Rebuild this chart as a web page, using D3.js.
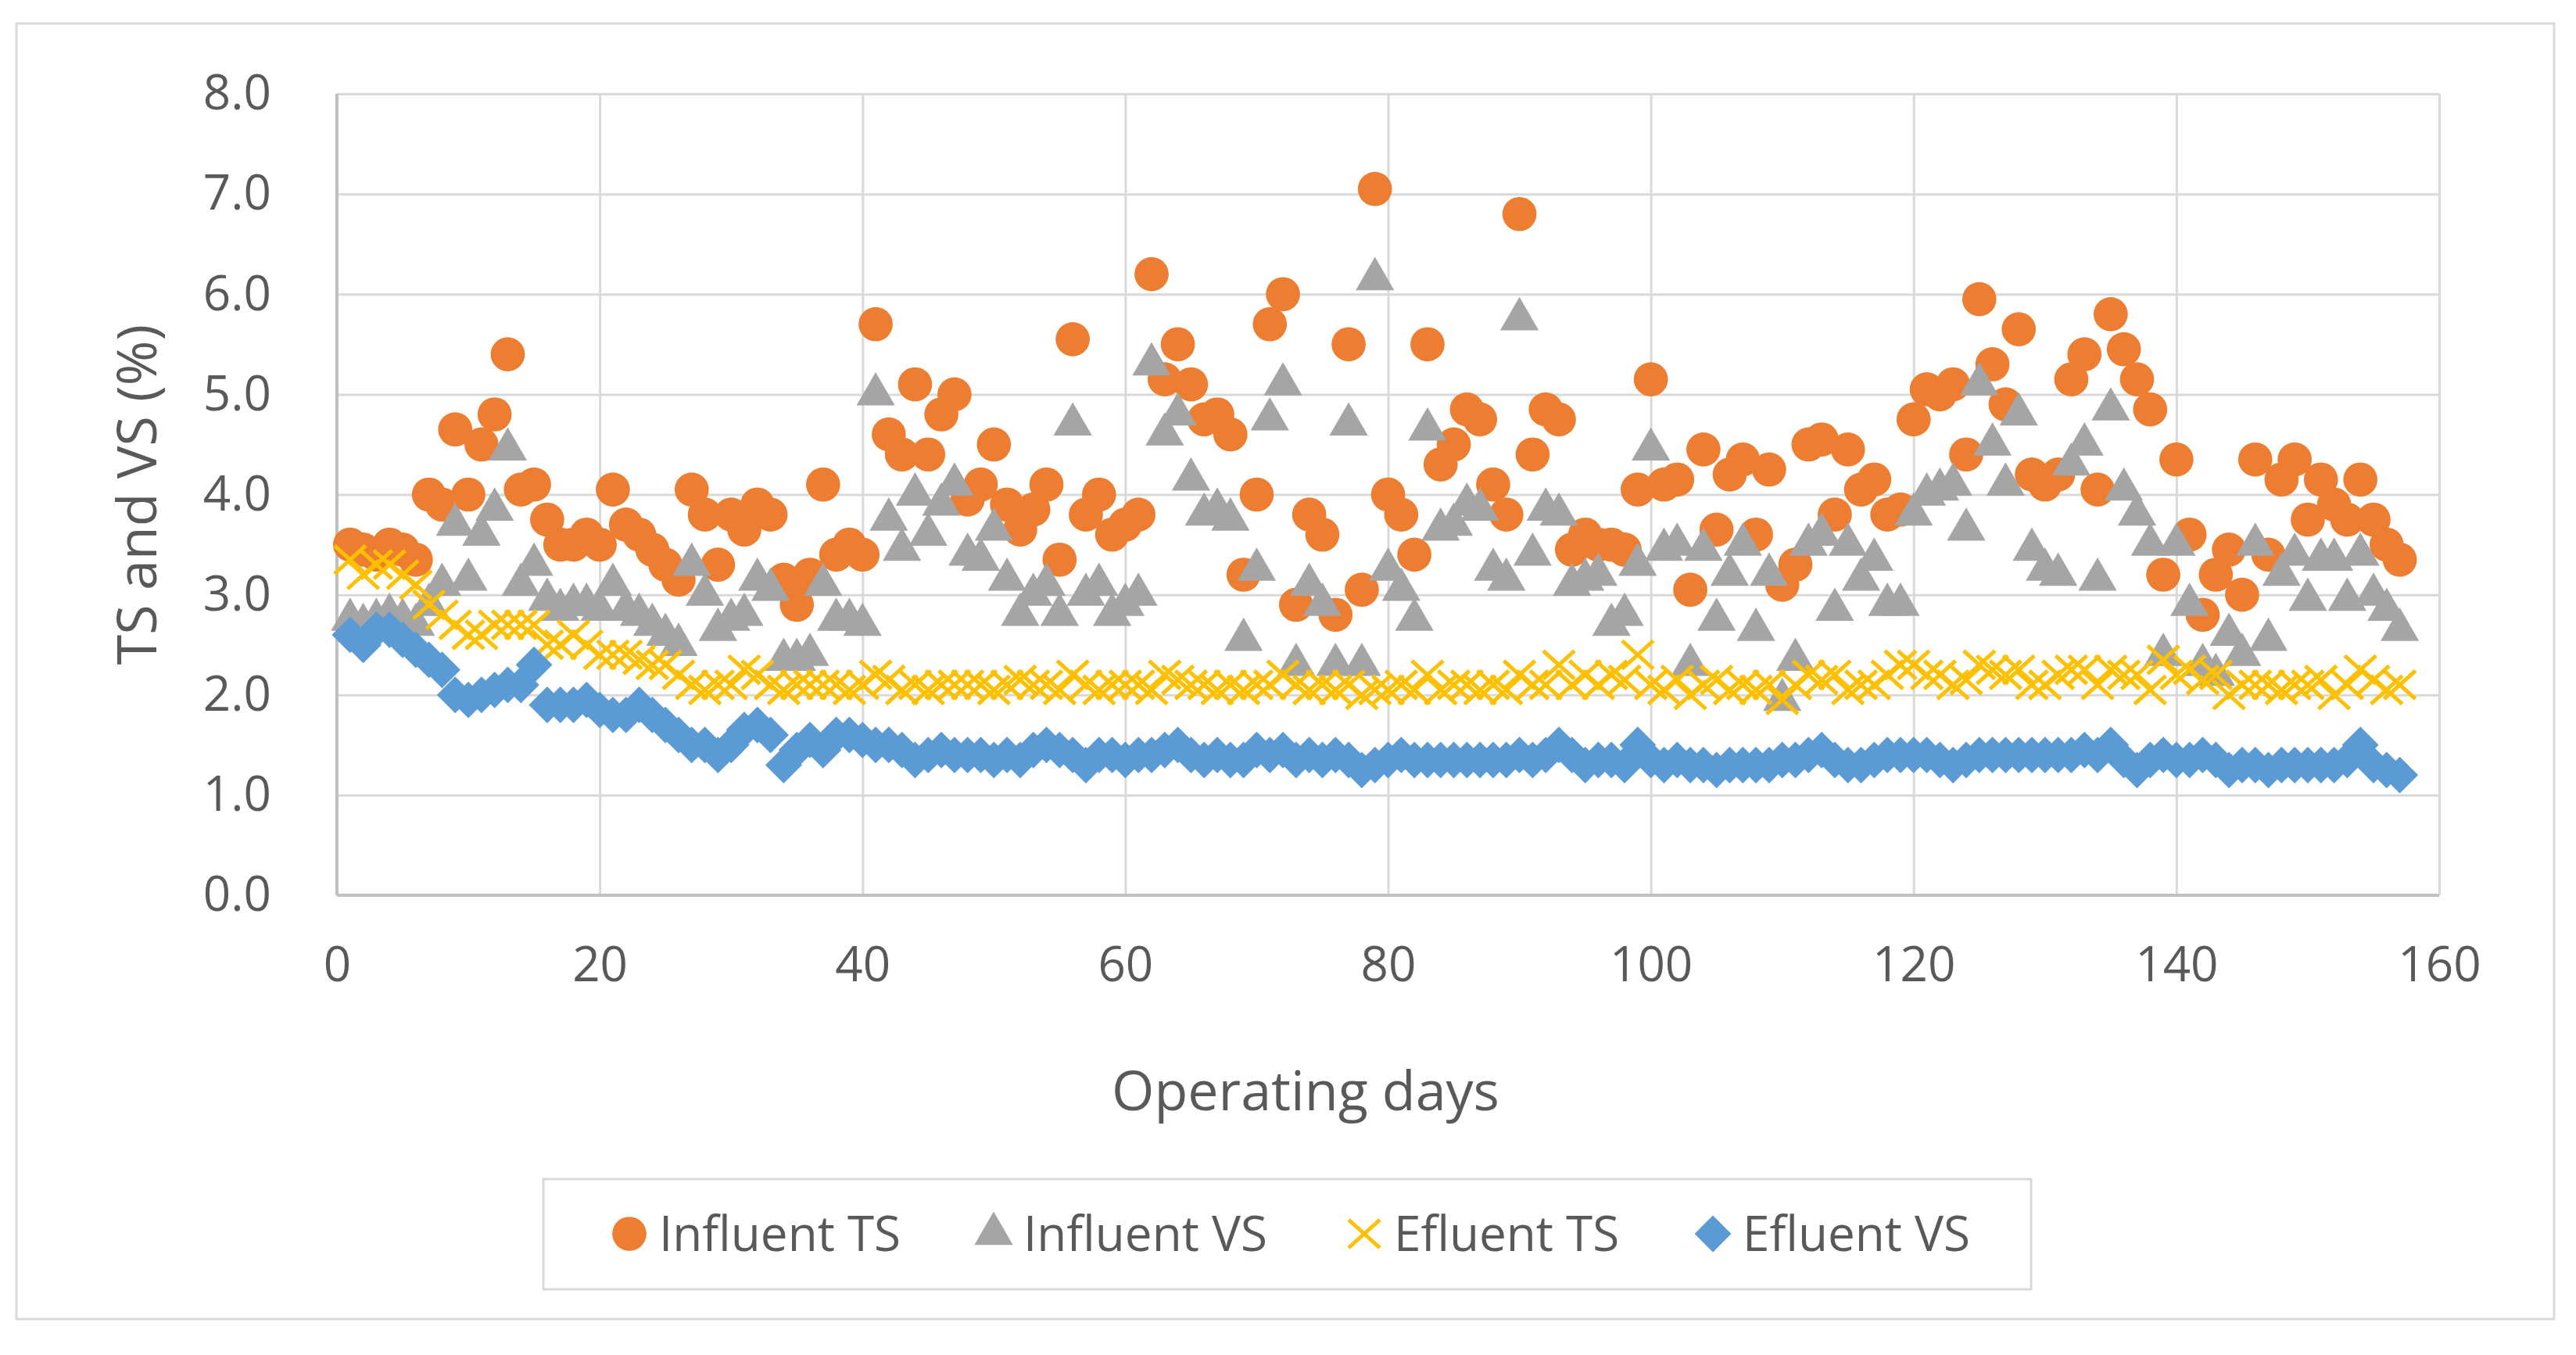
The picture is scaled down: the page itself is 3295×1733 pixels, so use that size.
<!DOCTYPE html>
<html lang="en">
<head>
    <meta charset="UTF-8">
    <title>TS and VS</title>
    <script src="https://d3js.org/d3.v7.min.js"></script>
    <style>
        body { margin: 0; background: #fff; }
        text { font-family: "Open Sans", sans-serif; fill: #595959; }
        .gridlines .domain { display: none; }
        .gridlines line { stroke: #d9d9d9; stroke-width: 3px; }
        .axis .domain { display: none; }
        .axis line { display: none; }
        .axis text { font-size: 62px; }
    </style>
</head>
<body>
    <svg id="chart" width="3295" height="1733"></svg>
    <script>
        // chart values (operating day = index + 1)
        const days = d3.range(1, 158);
        const xTicks = [0, 20, 40, 60, 80, 100, 120, 140, 160];
        const yTicks = [0, 1, 2, 3, 4, 5, 6, 7, 8];
        const seriesNames = ['Influent TS', 'Influent VS', 'Efluent TS', 'Efluent VS'];

        const influentTS = [3.5, 3.45, 3.4, 3.5, 3.45, 3.35, 4.0, 3.9, 4.65, 4.0,
            4.5, 4.8, 5.4, 4.05, 4.1, 3.75, 3.5, 3.5, 3.6, 3.5,
            4.05, 3.7, 3.6, 3.45, 3.3, 3.15, 4.05, 3.8, 3.3, 3.8,
            3.65, 3.9, 3.8, 3.15, 2.9, 3.2, 4.1, 3.4, 3.5, 3.4,
            5.7, 4.6, 4.4, 5.1, 4.4, 4.8, 5.0, 3.95, 4.1, 4.5,
            3.9, 3.65, 3.85, 4.1, 3.35, 5.55, 3.8, 4.0, 3.6, 3.7,
            3.8, 6.2, 5.15, 5.5, 5.1, 4.75, 4.8, 4.6, 3.2, 4.0,
            5.7, 6.0, 2.9, 3.8, 3.6, 2.8, 5.5, 3.05, 7.05, 4.0,
            3.8, 3.4, 5.5, 4.3, 4.5, 4.85, 4.75, 4.1, 3.8, 6.8,
            4.4, 4.85, 4.75, 3.45, 3.6, 3.5, 3.5, 3.45, 4.05, 5.15,
            4.1, 4.15, 3.05, 4.45, 3.65, 4.2, 4.35, 3.6, 4.25, 3.1,
            3.3, 4.5, 4.55, 3.8, 4.45, 4.05, 4.15, 3.8, 3.85, 4.75,
            5.05, 5.0, 5.1, 4.4, 5.95, 5.3, 4.9, 5.65, 4.2, 4.1,
            4.2, 5.15, 5.4, 4.05, 5.8, 5.45, 5.15, 4.85, 3.2, 4.35,
            3.6, 2.8, 3.2, 3.45, 3.0, 4.35, 3.4, 4.15, 4.35, 3.75,
            4.15, 3.9, 3.75, 4.15, 3.75, 3.5, 3.35];

        const influentVS = [2.75, 2.7, 2.75, 2.8, 2.75, 2.7, 2.9, 3.1, 3.7, 3.15,
            3.6, 3.85, 4.45, 3.1, 3.3, 2.95, 2.85, 2.9, 2.9, 2.85,
            3.1, 2.85, 2.8, 2.7, 2.6, 2.5, 3.3, 3.0, 2.65, 2.75,
            2.8, 3.15, 3.05, 2.35, 2.35, 2.4, 3.1, 2.75, 2.75, 2.7,
            5.0, 3.75, 3.45, 4.0, 3.6, 3.9, 4.1, 3.4, 3.35, 3.65,
            3.15, 2.8, 3.0, 3.1, 2.8, 4.7, 3.0, 3.1, 2.8, 2.9,
            3.0, 5.3, 4.6, 4.8, 4.15, 3.8, 3.85, 3.75, 2.55, 3.25,
            4.75, 5.1, 2.3, 3.1, 2.9, 2.3, 4.7, 2.3, 6.15, 3.25,
            3.05, 2.75, 4.65, 3.65, 3.7, 3.9, 3.85, 3.25, 3.15, 5.75,
            3.4, 3.85, 3.8, 3.1, 3.15, 3.2, 2.7, 2.8, 3.3, 4.45,
            3.45, 3.5, 2.3, 3.45, 2.75, 3.2, 3.5, 2.65, 3.2, 1.95,
            2.35, 3.5, 3.6, 2.85, 3.5, 3.15, 3.35, 2.9, 2.9, 3.8,
            4.0, 4.05, 4.1, 3.65, 5.1, 4.5, 4.1, 4.8, 3.45, 3.25,
            3.2, 4.3, 4.5, 3.15, 4.85, 4.05, 3.8, 3.5, 2.4, 3.5,
            2.9, 2.3, 2.2, 2.6, 2.4, 3.5, 2.55, 3.2, 3.4, 2.95,
            3.35, 3.35, 2.95, 3.4, 3.0, 2.85, 2.65];

        const effluentTS = [3.35, 3.2, 3.3, 3.3, 3.2, 3.1, 2.9, 2.8, 2.7, 2.6,
            2.6, 2.7, 2.7, 2.7, 2.7, 2.5, 2.5, 2.6, 2.5, 2.4,
            2.4, 2.4, 2.35, 2.3, 2.3, 2.2, 2.1, 2.05, 2.1, 2.1,
            2.25, 2.2, 2.1, 2.05, 2.1, 2.1, 2.1, 2.1, 2.05, 2.1,
            2.2, 2.15, 2.05, 2.1, 2.05, 2.1, 2.1, 2.1, 2.1, 2.05,
            2.1, 2.15, 2.1, 2.1, 2.05, 2.2, 2.1, 2.05, 2.1, 2.1,
            2.1, 2.05, 2.2, 2.15, 2.1, 2.1, 2.05, 2.1, 2.05, 2.1,
            2.1, 2.2, 2.1, 2.05, 2.1, 2.05, 2.1, 2.0, 2.05, 2.05,
            2.1, 2.05, 2.2, 2.05, 2.1, 2.1, 2.05, 2.1, 2.05, 2.2,
            2.1, 2.1, 2.3, 2.1, 2.2, 2.1, 2.2, 2.15, 2.4, 2.1,
            2.05, 2.15, 2.0, 2.1, 2.15, 2.05, 2.1, 2.05, 2.1, 1.95,
            2.1, 2.2, 2.15, 2.2, 2.05, 2.1, 2.1, 2.2, 2.3, 2.3,
            2.2, 2.2, 2.1, 2.15, 2.3, 2.25, 2.2, 2.25, 2.1, 2.1,
            2.2, 2.25, 2.25, 2.1, 2.25, 2.2, 2.2, 2.05, 2.35, 2.2,
            2.25, 2.15, 2.2, 2.0, 2.1, 2.1, 2.1, 2.05, 2.1, 2.1,
            2.15, 2.0, 2.1, 2.25, 2.15, 2.05, 2.1];

        const effluentVS = [2.6, 2.5, 2.65, 2.65, 2.55, 2.45, 2.35, 2.25, 2.0, 1.95,
            2.0, 2.05, 2.1, 2.1, 2.3, 1.9, 1.9, 1.9, 1.95, 1.85,
            1.8, 1.8, 1.9, 1.8, 1.7, 1.6, 1.5, 1.5, 1.4, 1.5,
            1.65, 1.7, 1.6, 1.3, 1.45, 1.55, 1.45, 1.6, 1.6, 1.55,
            1.5, 1.5, 1.45, 1.35, 1.4, 1.45, 1.4, 1.4, 1.4, 1.35,
            1.4, 1.35, 1.45, 1.5, 1.45, 1.4, 1.3, 1.4, 1.4, 1.35,
            1.4, 1.4, 1.45, 1.5, 1.4, 1.35, 1.4, 1.35, 1.35, 1.45,
            1.4, 1.45, 1.35, 1.4, 1.35, 1.4, 1.35, 1.25, 1.3, 1.35,
            1.4, 1.35, 1.35, 1.35, 1.35, 1.35, 1.35, 1.35, 1.35, 1.4,
            1.35, 1.4, 1.5, 1.4, 1.3, 1.35, 1.35, 1.3, 1.5, 1.35,
            1.3, 1.35, 1.3, 1.3, 1.25, 1.3, 1.3, 1.3, 1.3, 1.35,
            1.35, 1.4, 1.45, 1.35, 1.3, 1.3, 1.35, 1.4, 1.4, 1.4,
            1.4, 1.35, 1.3, 1.35, 1.4, 1.4, 1.4, 1.4, 1.4, 1.4,
            1.4, 1.4, 1.45, 1.4, 1.5, 1.35, 1.25, 1.35, 1.4, 1.35,
            1.35, 1.4, 1.35, 1.25, 1.3, 1.3, 1.25, 1.3, 1.3, 1.3,
            1.3, 1.3, 1.35, 1.5, 1.3, 1.25, 1.2];

        const svg = d3.select('#chart');
        const plot = { left: 431, right: 3120, top: 120, bottom: 1145 };

        // outer chart frame
        svg.append('rect')
            .attr('x', 21).attr('y', 30)
            .attr('width', 3246).attr('height', 1657)
            .attr('fill', '#fff')
            .attr('stroke', '#d9d9d9').attr('stroke-width', 3);

        const x = d3.scaleLinear().domain([0, 160]).range([plot.left, plot.right]);
        const y = d3.scaleLinear().domain([0, 8]).range([plot.bottom, plot.top]);

        // gridlines
        svg.append('g')
            .attr('class', 'gridlines')
            .attr('transform', `translate(0,${plot.bottom})`)
            .call(d3.axisBottom(x).tickValues(xTicks).tickSize(-(plot.bottom - plot.top)).tickFormat(''));
        svg.append('g')
            .attr('class', 'gridlines')
            .attr('transform', `translate(${plot.left},0)`)
            .call(d3.axisLeft(y).tickValues(yTicks).tickSize(-(plot.right - plot.left)).tickFormat(''));

        // axis lines (slightly darker than the grid)
        svg.append('line')
            .attr('x1', plot.left).attr('x2', plot.right)
            .attr('y1', plot.bottom).attr('y2', plot.bottom)
            .attr('stroke', '#bfbfbf').attr('stroke-width', 4);
        svg.append('line')
            .attr('x1', plot.left).attr('x2', plot.left)
            .attr('y1', plot.top).attr('y2', plot.bottom)
            .attr('stroke', '#bfbfbf').attr('stroke-width', 4);

        // tick labels
        svg.append('g')
            .attr('class', 'axis')
            .attr('transform', `translate(${plot.left},0)`)
            .call(d3.axisLeft(y).tickValues(yTicks).tickSize(0).tickPadding(84).tickFormat(d3.format('.1f')));
        svg.append('g')
            .attr('class', 'axis')
            .attr('transform', `translate(0,${plot.bottom})`)
            .call(d3.axisBottom(x).tickValues(xTicks).tickSize(0).tickPadding(66));

        // axis titles
        svg.append('text')
            .attr('transform', `translate(200,${(plot.top + plot.bottom) / 2}) rotate(-90)`)
            .attr('text-anchor', 'middle')
            .attr('font-size', 70)
            .text('TS and VS (%)');
        svg.append('text')
            .attr('x', 1670)
            .attr('y', 1420)
            .attr('text-anchor', 'middle')
            .attr('font-size', 70)
            .text('Operating days');

        // marker shapes
        const circlePath = d3.symbol().type(d3.symbolCircle).size(1500)();
        const trianglePath = d3.symbol().type(d3.symbolTriangle).size(1050)();
        const diamondPath = d3.symbol().type(d3.symbolSquare).size(1100)();

        function drawCircle(g) {
            g.append('path').attr('d', circlePath).attr('fill', '#ED7D31');
        }
        function drawTriangle(g) {
            g.append('path').attr('d', trianglePath).attr('fill', '#A5A5A5');
        }
        function drawCross(g) {
            g.append('path').attr('d', 'M-20,-18L20,18M-20,18L20,-18')
                .attr('stroke', '#FFC000').attr('stroke-width', 5).attr('fill', 'none');
        }
        function drawDiamond(g) {
            g.append('path').attr('d', diamondPath).attr('transform', 'rotate(45)').attr('fill', '#5B9BD5');
        }

        const series = [
            { values: influentTS, draw: drawCircle },
            { values: influentVS, draw: drawTriangle },
            { values: effluentTS, draw: drawCross },
            { values: effluentVS, draw: drawDiamond }
        ];

        series.forEach(s => {
            svg.append('g')
                .selectAll('g')
                .data(s.values)
                .join('g')
                .attr('transform', (d, i) => `translate(${x(days[i])},${y(d)})`)
                .each(function () { s.draw(d3.select(this)); });
        });

        // legend
        svg.append('rect')
            .attr('x', 695).attr('y', 1508)
            .attr('width', 1903).attr('height', 141)
            .attr('fill', '#fff')
            .attr('stroke', '#d9d9d9').attr('stroke-width', 3);

        const legendX = [805, 1271, 1745, 2191];
        const legend = svg.append('g').attr('transform', 'translate(0,1578)');
        seriesNames.forEach((name, i) => {
            let item = legend.append('g').attr('transform', `translate(${legendX[i]},0)`);
            series[i].draw(item);
            legend.append('text')
                .attr('x', legendX[i] + 38)
                .attr('y', 22)
                .attr('font-size', 62)
                .text(name);
        });
    </script>
</body>
</html>
